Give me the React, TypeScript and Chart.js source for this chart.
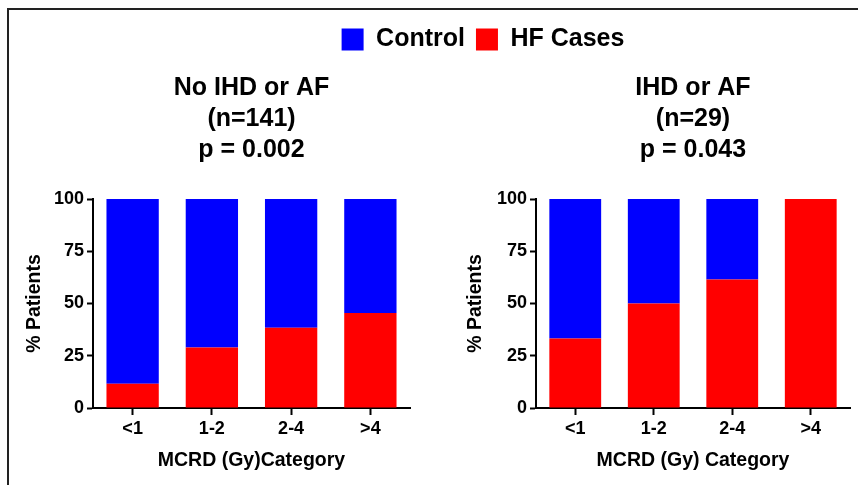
import React, { useEffect, useRef } from 'react';
import { Chart, registerables } from 'chart.js';

Chart.register(...registerables);

const FONT = "'Liberation Sans', Arial, Helvetica, sans-serif";

const categories = ['<1', '1-2', '2-4', '>4'];
const seriesNames = ['Control', 'HF Cases'];
const seriesColors = ['#0000FF', '#FF0000'];

const leftHF = [11.6, 29.0, 38.4, 45.5];
const leftControl = [88.4, 71.0, 61.6, 54.5];
const rightHF = [33.3, 50.0, 61.5, 100];
const rightControl = [66.7, 50.0, 38.5, 0];

const yTicks = [0, 25, 50, 75, 100];
const leftTitle = ['No IHD or AF', '(n=141)', 'p = 0.002'];
const rightTitle = ['IHD or AF', '(n=29)', 'p = 0.043'];
const leftXTitle = 'MCRD (Gy)Category';
const rightXTitle = 'MCRD (Gy) Category';
const yTitle = '% Patients';

function panelConfig(
  hf: number[],
  control: number[],
  title: string[],
  xTitle: string,
  yWidth: number,
  padRight: number,
  yTitlePad: number
): any {
  return {
    type: 'bar',
    data: {
      labels: categories,
      datasets: [
        { label: seriesNames[1], data: hf, backgroundColor: seriesColors[1], borderWidth: 0 },
        { label: seriesNames[0], data: control, backgroundColor: seriesColors[0], borderWidth: 0 },
      ],
    },
    options: {
      responsive: false,
      animation: false,
      devicePixelRatio: 1,
      layout: { padding: { left: 0, right: padRight, top: 0, bottom: 0 } },
      datasets: { bar: { barPercentage: 0.66, categoryPercentage: 1 } },
      plugins: {
        legend: { display: false },
        tooltip: { enabled: false },
        title: {
          display: true,
          fullSize: false,
          text: title,
          color: '#000',
          font: { family: FONT, size: 25, weight: 'bold', lineHeight: 1.24 },
          padding: { top: 72.5, bottom: 33.5 },
        },
      },
      scales: {
        x: {
          stacked: true,
          border: { display: true, color: '#000', width: 2 },
          grid: {
            offset: false,
            drawOnChartArea: false,
            drawTicks: true,
            tickLength: 7,
            tickWidth: 2,
            tickColor: '#000',
          },
          ticks: {
            color: '#000',
            maxRotation: 0,
            padding: 3,
            font: { family: FONT, size: 18, weight: 'bold' },
          },
          title: {
            display: true,
            text: xTitle,
            color: '#000',
            font: { family: FONT, size: 19.5, weight: 'bold' },
            padding: { top: 0, bottom: 13 },
          },
          afterFit: (s: any) => {
            s.height = 77;
          },
        },
        y: {
          stacked: true,
          min: 0,
          max: 100,
          afterBuildTicks: (s: any) => {
            s.ticks = yTicks.map((v) => ({ value: v }));
          },
          border: { display: true, color: '#000', width: 2 },
          grid: {
            drawOnChartArea: false,
            drawTicks: true,
            tickLength: 6,
            tickWidth: 2,
            tickColor: '#000',
          },
          ticks: {
            color: '#000',
            padding: 3,
            font: { family: FONT, size: 18, weight: 'bold' },
          },
          title: {
            display: true,
            text: yTitle,
            color: '#000',
            font: { family: FONT, size: 19.5, weight: 'bold' },
            padding: { top: yTitlePad, bottom: 0 },
          },
          afterFit: (s: any) => {
            s.width = yWidth;
          },
        },
      },
    },
  };
}

function legendConfig(): any {
  return {
    type: 'bar',
    data: {
      labels: [],
      datasets: seriesNames.map((n, i) => ({
        label: n,
        data: [],
        backgroundColor: seriesColors[i],
        borderWidth: 0,
      })),
    },
    options: {
      responsive: false,
      animation: false,
      devicePixelRatio: 1,
      layout: { padding: { top: 16, left: 0, right: 0, bottom: 0 } },
      scales: { x: { display: false }, y: { display: false } },
      plugins: {
        tooltip: { enabled: false },
        title: { display: false },
        legend: {
          display: true,
          position: 'top',
          align: 'center',
          labels: {
            boxWidth: 22,
            boxHeight: 22,
            padding: 11,
            color: '#000',
            font: { family: FONT, size: 25, weight: 'bold' },
          },
        },
      },
    },
  };
}

export default function App() {
  const legendRef = useRef<HTMLCanvasElement>(null);
  const leftRef = useRef<HTMLCanvasElement>(null);
  const rightRef = useRef<HTMLCanvasElement>(null);

  useEffect(() => {
    document.body.style.margin = '0';
    const charts: Chart[] = [];
    if (legendRef.current) charts.push(new Chart(legendRef.current, legendConfig()));
    if (leftRef.current)
      charts.push(
        new Chart(leftRef.current, panelConfig(leftHF, leftControl, leftTitle, leftXTitle, 93, 19, 22.8))
      );
    if (rightRef.current)
      charts.push(
        new Chart(rightRef.current, panelConfig(rightHF, rightControl, rightTitle, rightXTitle, 107, 8, 34.8))
      );
    return () => charts.forEach((c) => c.destroy());
  }, []);

  return (
    <div
      style={{
        position: 'fixed',
        left: 0,
        top: 0,
        width: 858,
        height: 485,
        background: '#fff',
        overflow: 'hidden',
      }}
    >
      <div
        style={{
          position: 'absolute',
          left: 7,
          top: 8,
          right: 0,
          bottom: 0,
          borderTop: '2px solid #222',
          borderLeft: '2px solid #222',
        }}
      />
      <canvas
        ref={leftRef}
        width={429}
        height={485}
        style={{ position: 'absolute', left: 0, top: 0, width: 429, height: 485 }}
      />
      <canvas
        ref={rightRef}
        width={429}
        height={485}
        style={{ position: 'absolute', left: 429, top: 0, width: 429, height: 485 }}
      />
      <canvas
        ref={legendRef}
        width={572}
        height={140}
        style={{ position: 'absolute', left: 197, top: 0, width: 572, height: 140, pointerEvents: 'none' }}
      />
    </div>
  );
}
